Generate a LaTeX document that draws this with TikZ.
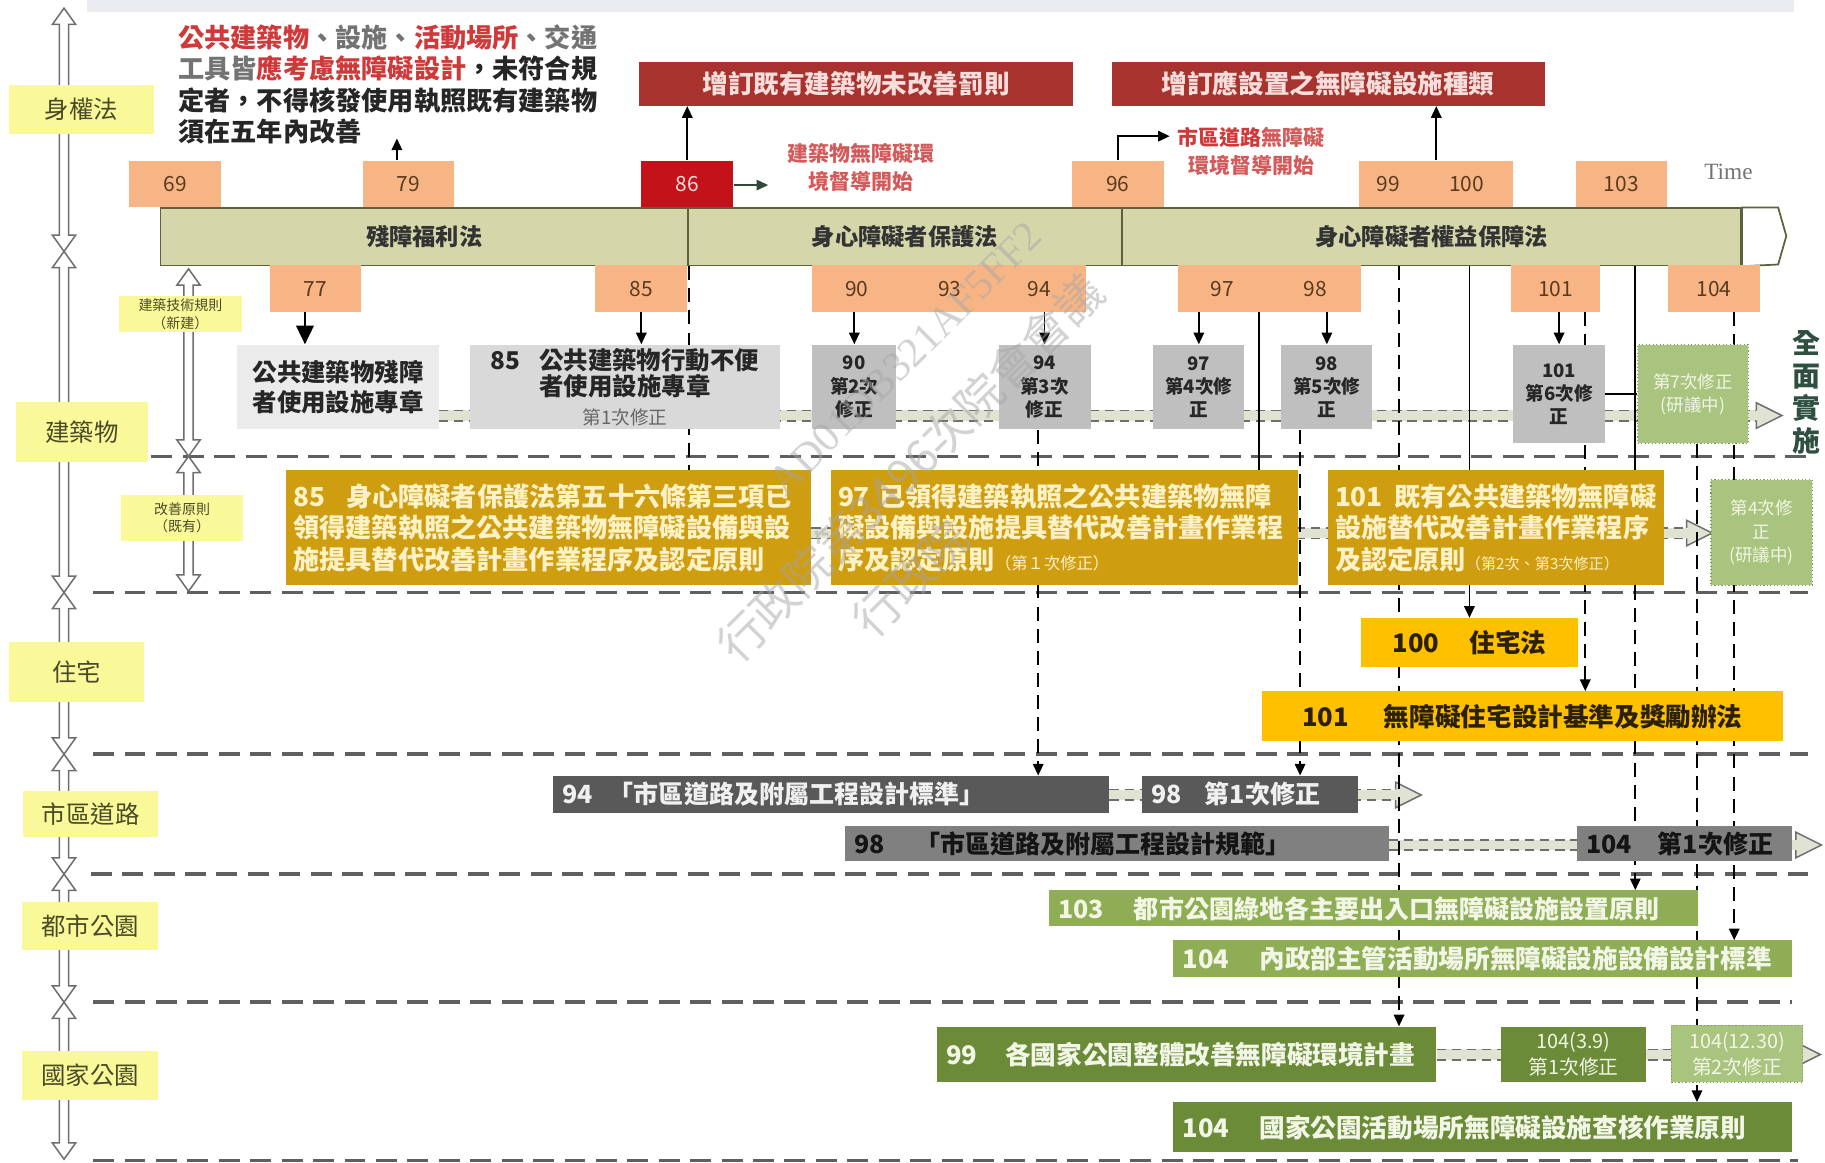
\documentclass[tikz,border=0pt]{standalone}
\usepackage{fontspec}
\setmainfont{Noto Sans CJK TC}
\newfontfamily\timefont{Liberation Serif}
\usetikzlibrary{arrows.meta,calc}
\definecolor{yrfill}{HTML}{F7B586}
\definecolor{yrtext}{HTML}{5B3A1E}
\definecolor{redbox}{HTML}{C4121A}
\definecolor{barfill}{HTML}{D5D7AB}
\definecolor{barline}{HTML}{5C6140}
\definecolor{banner}{HTML}{A8322D}
\definecolor{bannertext}{HTML}{F7DEDC}
\definecolor{redtext}{HTML}{D0393A}
\definecolor{pinktext}{HTML}{D25A5A}
\definecolor{labelfill}{HTML}{FAF99A}
\definecolor{lbltext}{HTML}{4A4A28}
\definecolor{gray1}{HTML}{EBEBEB}
\definecolor{gray2}{HTML}{D9D9D9}
\definecolor{gray3}{HTML}{BFBFBF}
\definecolor{ltgreen}{HTML}{A9C47E}
\definecolor{ltgreenline}{HTML}{7E9E55}
\definecolor{gold}{HTML}{CF9D10}
\definecolor{goldtext}{HTML}{FDF1C6}
\definecolor{amber}{HTML}{FFC000}
\definecolor{ambertext}{HTML}{2B2100}
\definecolor{dkgray}{HTML}{595959}
\definecolor{mdgray}{HTML}{808080}
\definecolor{olive1}{HTML}{8EAD55}
\definecolor{olive2}{HTML}{6B8B38}
\definecolor{olivetext}{HTML}{F2F6E6}
\definecolor{sepline}{HTML}{5F5F5F}
\definecolor{flowfill}{HTML}{E1E3D2}
\definecolor{flowline}{HTML}{6E6E6E}
\definecolor{quan}{HTML}{2F5040}
\definecolor{arrowgray}{HTML}{6E6E6E}
\definecolor{arrowgreen}{HTML}{2F4A3A}
\definecolor{topband}{HTML}{E9EBEF}
\pgfdeclarelayer{bg}
\pgfsetlayers{bg,main}
\tikzset{
  yr/.style={rectangle, fill=yrfill, inner sep=0pt, minimum height=40pt, text=yrtext, font=\fontsize{18}{20}\selectfont},
  yrnum/.style={inner sep=0pt, text=yrtext, font=\fontsize{18}{20}\selectfont},
  barseg/.style={rectangle, fill=barfill, draw=barline, line width=1.5pt, inner sep=0pt, minimum height=49pt, text=black!80, font=\fontsize{20}{22}\selectfont\bfseries},
  bann/.style={rectangle, fill=banner, inner sep=0pt, minimum height=38pt, minimum width=373pt, text=bannertext, font=\fontsize{22}{24}\selectfont\bfseries},
  lbl/.style={rectangle, fill=labelfill, inner sep=0pt, text=lbltext, font=\fontsize{21}{24}\selectfont},
  slbl/.style={lbl, align=center, font=\fontsize{12}{15}\selectfont},
  gbx/.style={rectangle, inner sep=0pt, align=center, text=black!85, font=\fontsize{16}{20}\selectfont\bfseries, minimum height=73pt, fill=gray3},
  grn/.style={rectangle, fill=ltgreen, draw=ltgreenline, dotted, line width=1pt, inner sep=0pt, align=center, text=olivetext, font=\fontsize{15}{20}\selectfont},
  goldbx/.style={rectangle, fill=gold, text=goldtext, inner xsep=6pt, inner ysep=0pt, minimum height=99pt, align=left, font=\fontsize{22.5}{27}\selectfont\bfseries},
  lbox/.style={rectangle, inner xsep=8pt, inner ysep=0pt, align=left, font=\fontsize{21.5}{24}\selectfont\bfseries},
  conn/.style={draw=black, line width=1.5pt},
  dconn/.style={draw=black, line width=1.6pt, dash pattern=on 12pt off 7pt},
  arr/.style={-{Triangle[length=10pt,width=9pt]}},
  sepdash/.style={draw=sepline, line width=3pt, dash pattern=on 18pt off 9pt},
  flowl/.style={draw=flowline, line width=1.3pt, dash pattern=on 8pt off 5pt},
  wmark/.style={rotate=45, text=black!35, opacity=0.5, inner sep=0pt},
}
\newcommand\vdarr[3]{\filldraw[fill=white,draw=arrowgray,line width=1.3pt] (#1,#2) -- ({#1+10},{#2+14}) -- ({#1+4},{#2+14}) -- ({#1+4},{#3-14}) -- ({#1+10},{#3-14}) -- (#1,#3) -- ({#1-10},{#3-14}) -- ({#1-4},{#3-14}) -- ({#1-4},{#2+14}) -- ({#1-10},{#2+14}) -- cycle;}
\newcommand\flowband[2]{%
  \draw[line width=9pt, draw=flowfill] (#1) -- ([xshift=-20pt]#2);
  \draw[flowl] ([yshift=4.5pt]#1) -- ([yshift=4.5pt,xshift=-20pt]#2);
  \draw[flowl] ([yshift=-4.5pt]#1) -- ([yshift=-4.5pt,xshift=-20pt]#2);
  \filldraw[fill=flowfill, draw=flowline, line width=1.3pt] ([xshift=-22pt,yshift=4.5pt]#2) -- ([xshift=-22pt,yshift=11pt]#2) -- (#2) -- ([xshift=-22pt,yshift=-11pt]#2) -- ([xshift=-22pt,yshift=-4.5pt]#2);
}
\begin{document}
\begin{tikzpicture}[x=1pt,y=-1pt]
\useasboundingbox (0,0) rectangle (1568,999.2);
% left hierarchy arrows
\vdarr{55}{7}{216}
\vdarr{55}{216}{509}
\vdarr{55}{509}{648}
\vdarr{55}{648}{751}
\vdarr{55}{751}{861}
\vdarr{55}{861}{996}
\vdarr{162}{231}{392}
\vdarr{162}{392}{508}
% top law text
\node[anchor=north west, inner sep=0pt, align=left, text=black!85, font=\fontsize{22.5}{27}\selectfont\bfseries] (law) at (153,21) {\textcolor{redtext}{公共建築物}\textcolor{black!55}{、設施、}\textcolor{redtext}{活動場所}\textcolor{black!55}{、交通}\\\textcolor{black!55}{工具皆}\textcolor{redtext}{應考慮無障礙設計}，未符合規\\定者，不得核發使用執照既有建築物\\須在五年內改善};
% year boxes above
\node[yr, minimum width=79pt] (y69) at (150.5,158) {69};
\node[yr, minimum width=78pt] (y79) at (351,158) {79};
\node[yr, minimum width=79pt, fill=redbox, text=bannertext] (y86) at (590.5,158) {86};
\node[yr, minimum width=79pt] (y96) at (960.5,158) {96};
\node[yr, minimum width=132pt] (y99100) at (1234,158) {};
\node[yrnum] (n99) at (1193,158) {99};
\node[yrnum] (n100) at (1260,158) {100};
\node[yr, minimum width=78pt] (y103) at (1393,158) {103};
\node[font=\timefont\fontsize{20}{20}\selectfont, text=black!55, inner sep=0pt] (time) at (1485,148) {Time};
% timeline bar
\node[barseg, minimum width=453pt] (bar1) at (364.5,203.5) {殘障福利法};
\node[barseg, minimum width=373pt] (bar2) at (777.5,203.5) {身心障礙者保護法};
\node[barseg, minimum width=532pt] (bar3) at (1230,203.5) {身心障礙者權益保障法};
\draw[fill=white, draw=barline, line width=1.5pt] (bar3.north east) -- ++(31,0) -- ++(7,24.5) -- ++(-7,24.5) -- (bar3.south east) -- cycle;
% year boxes below
\node[yr, minimum width=78pt] (y77) at (271,248) {77};
\node[yr, minimum width=79pt] (y85) at (551,248) {85};
\node[yr, minimum width=235pt] (y9094) at (815.5,248) {};
\node[yrnum] (n90) at (736,248) {90};
\node[yrnum] (n93) at (816,248) {93};
\node[yrnum] (n94) at (893,248) {94};
\node[yr, minimum width=157pt] (y9798) at (1090.5,248) {};
\node[yrnum] (n97) at (1050,248) {97};
\node[yrnum] (n98) at (1130,248) {98};
\node[yr, minimum width=77pt] (y101) at (1336.5,248) {101};
\node[yr, minimum width=79pt] (y104) at (1472.5,248) {104};
% banners
\node[bann] (rb1) at (735.5,72) {增訂既有建築物未改善罰則};
\node[bann, minimum width=372pt] (rb2) at (1141,72) {增訂應設置之無障礙設施種類};
\node[align=center, inner sep=0pt, text=pinktext, font=\fontsize{18}{24}\selectfont\bfseries] (t86) at (740,144) {建築物無障礙環\\境督導開始};
\node[align=center, inner sep=0pt, text=pinktext, font=\fontsize{18}{24}\selectfont\bfseries] (t96) at (1075,130) {\textcolor{redtext}{市區道路}無障礙\\環境督導開始};
% building row (new)
\node[gbx, fill=gray1, minimum width=173pt, font=\fontsize{21}{26}\selectfont\bfseries] (b77) at (290.5,332.5) {公共建築物殘障\\者使用設施專章};
\node[gbx, fill=gray2, minimum width=266pt, font=\fontsize{21}{22}\selectfont\bfseries] (b85) at (537,332.5) {85\hspace{16pt}公共建築物行動不便\\者使用設施專章\\[3pt]{\fontsize{16}{18}\selectfont\mdseries\color{black!60}第1次修正}};
\node[gbx, minimum width=72pt] (b90) at (734,332.5) {90\\第2次\\修正};
\node[gbx, minimum width=79pt] (b94) at (897.5,332.5) {94\\第3次\\修正};
\node[gbx, minimum width=78pt] (b97) at (1030,332.5) {97\\第4次修\\正};
\node[gbx, minimum width=78pt] (b98) at (1140,332.5) {98\\第5次修\\正};
\node[gbx, minimum width=79pt, minimum height=85pt] (b101) at (1339.5,338.5) {101\\第6次修\\正};
\node[grn, minimum width=95pt, minimum height=85pt] (b7th) at (1454.5,338.5) {第7次修正\\(研議中)};
\node[align=center, inner sep=0pt, text=quan, font=\fontsize{24}{28}\selectfont\bfseries] (qm) at (1552,337) {全\\面\\實\\施};
% building row (existing)
\node[goldbx, text width=439pt] (gA) at (471.5,453.5) {85\hspace{18pt}身心障礙者保護法第五十六條第三項已\\領得建築執照之公共建築物無障礙設備與設\\施提具替代改善計畫作業程序及認定原則};
\node[goldbx, text width=389pt] (gB) at (914.5,453.5) {97\hspace{8pt}已領得建築執照之公共建築物無障\\礙設備與設施提具替代改善計畫作業程\\序及認定原則{\fontsize{14}{14}\selectfont\mdseries （第１次修正）}};
\node[goldbx, text width=277pt] (gC) at (1285.5,453.5) {101\hspace{10pt}既有公共建築物無障礙\\設施替代改善計畫作業程序\\及認定原則{\fontsize{13}{13}\selectfont\mdseries （第2次、第3次修正）}};
\node[grn, minimum width=87pt, minimum height=91pt] (g4th) at (1513.5,457.5) {第4次修\\正\\(研議中)};
% housing
\node[rectangle, fill=amber, inner sep=0pt, minimum width=187pt, minimum height=42pt, text=ambertext, font=\fontsize{22}{24}\selectfont\bfseries] (h100) at (1262.5,552) {100\hspace{26pt}住宅法};
\node[rectangle, fill=amber, inner sep=0pt, minimum width=448pt, minimum height=43pt, text=ambertext, font=\fontsize{22}{24}\selectfont\bfseries] (h101) at (1308,615.5) {101\hspace{30pt}無障礙住宅設計基準及獎勵辦法};
% roads
\node[lbox, fill=dkgray, text=white!94!black, text width=462pt, minimum height=32pt] (r94) at (714,682.5) {94\hspace{14pt}「市區道路及附屬工程設計標準」};
\node[lbox, fill=dkgray, text=white!94!black, text width=170pt, minimum height=32pt] (r98a) at (1074,682.5) {98\hspace{20pt}第1次修正};
\node[lbox, fill=mdgray, text=black!92, text width=451pt, minimum height=30pt] (r98b) at (959.5,725) {98\hspace{26pt}「市區道路及附屬工程設計規範」};
\node[lbox, fill=mdgray, text=black!92, text width=169pt, minimum height=30pt] (r104) at (1447.5,725) {104\hspace{22pt}第1次修正};
% urban parks
\node[lbox, fill=olive1, text=olivetext, text width=542pt, minimum height=31pt] (p103) at (1180,780.5) {103\hspace{26pt}都市公園綠地各主要出入口無障礙設施設置原則};
\node[lbox, fill=olive1, text=olivetext, text width=516pt, minimum height=31pt, font=\fontsize{22}{24}\selectfont\bfseries] (p104) at (1274,823.5) {104\hspace{26pt}內政部主管活動場所無障礙設施設備設計標準};
% national parks
\node[lbox, fill=olive2, text=olivetext, text width=413pt, minimum height=48pt, font=\fontsize{22}{24}\selectfont\bfseries] (n99b) at (1019.5,906) {99\hspace{24pt}各國家公園整體改善無障礙環境計畫};
\node[rectangle, fill=olive2, text=olivetext, inner sep=0pt, align=center, minimum width=124pt, minimum height=48pt, font=\fontsize{17}{22}\selectfont] (n104a) at (1352,906) {104(3.9)\\第1次修正};
\node[grn, minimum width=113pt, minimum height=49pt, font=\fontsize{17}{22}\selectfont] (n104b) at (1492.5,905.5) {104(12.30)\\第2次修正};
\node[lbox, fill=olive2, text=olivetext, text width=516pt, minimum height=43pt, font=\fontsize{22}{24}\selectfont\bfseries] (n104c) at (1274,968.5) {104\hspace{26pt}國家公園活動場所無障礙設施查核作業原則};
% category labels
\node[lbl, minimum width=124pt, minimum height=42pt] (L1) at (70,94) {身權法};
\node[lbl, minimum width=113pt, minimum height=52pt] (L2) at (70.5,371) {建築物};
\node[slbl, minimum width=105pt, minimum height=31pt] (L3) at (155,270) {建築技術規則\\（新建）};
\node[slbl, minimum width=105pt, minimum height=40pt] (L4) at (156.5,445) {改善原則\\（既有）};
\node[lbl, minimum width=116pt, minimum height=51pt] (L5) at (66,577.5) {住宅};
\node[lbl, minimum width=116pt, minimum height=39pt] (L6) at (78,699.5) {市區道路};
\node[lbl, minimum width=117pt, minimum height=41pt] (L7) at (77.5,795.5) {都市公園};
\node[lbl, minimum width=117pt, minimum height=42pt] (L8) at (77.5,924) {國家公園};
% watermark
\node[wmark, font=\timefont\fontsize{36}{36}\selectfont] (wm1) at (778,308) {AD01DB321AF5FF2};
\node[wmark, font=\fontsize{40}{40}\selectfont\mdseries] (wm2) at (782,402) {行政院第3496次院會會議};
\node[wmark, font=\fontsize{40}{40}\selectfont\mdseries] (wm3) at (782,497) {行政院};
\begin{pgfonlayer}{bg}
\fill[topband] (75,0) rectangle (1541,10);
\draw[sepdash] (130,392) -- (1553,392);
\draw[sepdash] (80,509) -- (1553,509);
\draw[sepdash] (80,648) -- (1553,648);
\draw[sepdash] (78,751) -- (1553,751);
\draw[sepdash] (80,861) -- (1540,861);
\draw[sepdash] (80,997) -- (1545,997);
% flows
\coordinate (fA1) at (1531,357);
\coordinate (fA0) at (b77.east |- fA1);
\flowband{fA0}{fA1}
\coordinate (fB1) at (1471,458);
\coordinate (fB0) at (gA.east |- fB1);
\flowband{fB0}{fB1}
\coordinate (fC1) at (1221,683);
\coordinate (fC0) at (r94.east |- fC1);
\flowband{fC0}{fC1}
\coordinate (fD1) at (1565,726);
\coordinate (fD0) at (r98b.east |- fD1);
\flowband{fD0}{fD1}
\coordinate (fE1) at (1564,906);
\coordinate (fE0) at (n99b.east |- fE1);
\flowband{fE0}{fE1}
% connectors top
\coordinate (law79) at (341,119);
\draw[conn,arr] (law79 |- y79.north) -- (law79);
\draw[conn,arr] (y86.north) -- (y86.north |- rb1.south);
\coordinate (g86) at (660,159);
\draw[line width=1.5pt, draw=arrowgreen, arr] (y86.east |- g86) -- (g86);
\coordinate (g96) at (1005,117);
\draw[conn,arr] (y96.north) |- (g96);
\draw[conn,arr] (y99100.north) -- (y99100.north |- rb2.south);
% connectors down
\coordinate (c77) at ([xshift=-9pt]y77.south);
\draw[line width=2pt, -{Triangle[length=16pt,width=15pt]}] (c77) -- (c77 |- b77.north);
\draw[conn,arr] (y85.south) -- (y85.south |- b85.north);
\draw[conn,arr] (b90.north |- y9094.south) -- (b90.north);
\draw[conn,arr] (b94.north |- y9094.south) -- (b94.north);
\draw[conn,arr] (b97.north |- y9798.south) -- (b97.north);
\draw[conn,arr] (b98.north |- y9798.south) -- (b98.north);
\draw[conn,arr] (b101.north |- y101.south) -- (b101.north);
\draw[conn] (b101.east) -- (b7th.west);
\draw[dconn] (bar1.south east) -- (bar1.south east |- gA.north);
\coordinate (c1082) at ([xshift=-8.5pt]y9798.south);
\draw[conn] (c1082) -- (c1082 |- gB.north);
\coordinate (c1117) at ([xshift=-23pt]b98.south);
\draw[dconn,arr] (c1117) -- (c1117 |- r98a.north);
\coordinate (c1202) at ([xshift=-28pt]bar3.south);
\draw[dconn,arr] (c1202) -- (c1202 |- n99b.north);
\draw[conn,arr] (h100.north |- bar3.south) -- (h100.north);
\coordinate (c1362) at ([xshift=25.5pt]y101.south);
\draw[dconn,arr] (c1362) -- (c1362 |- h101.north);
\coordinate (c1405) at ([xshift=175pt]bar3.south);
\coordinate (c1405b) at (c1405 |- gC.south);
\draw[conn] (c1405) -- (c1405b);
\draw[dconn,arr] (c1405b) -- (c1405 |- p103.north);
\coordinate (c1458) at ([xshift=3.5pt]b7th.south);
\draw[dconn,arr] (c1458) -- (c1458 |- n104c.north);
\coordinate (c1490) at ([xshift=17.5pt]y104.south);
\draw[dconn,arr] (c1490) -- (c1490 |- p104.north);
\coordinate (c892) at ([xshift=-5.5pt]b94.south);
\draw[dconn,arr] (c892) -- (c892 |- r94.north);
\end{pgfonlayer}
\end{tikzpicture}
\end{document}
